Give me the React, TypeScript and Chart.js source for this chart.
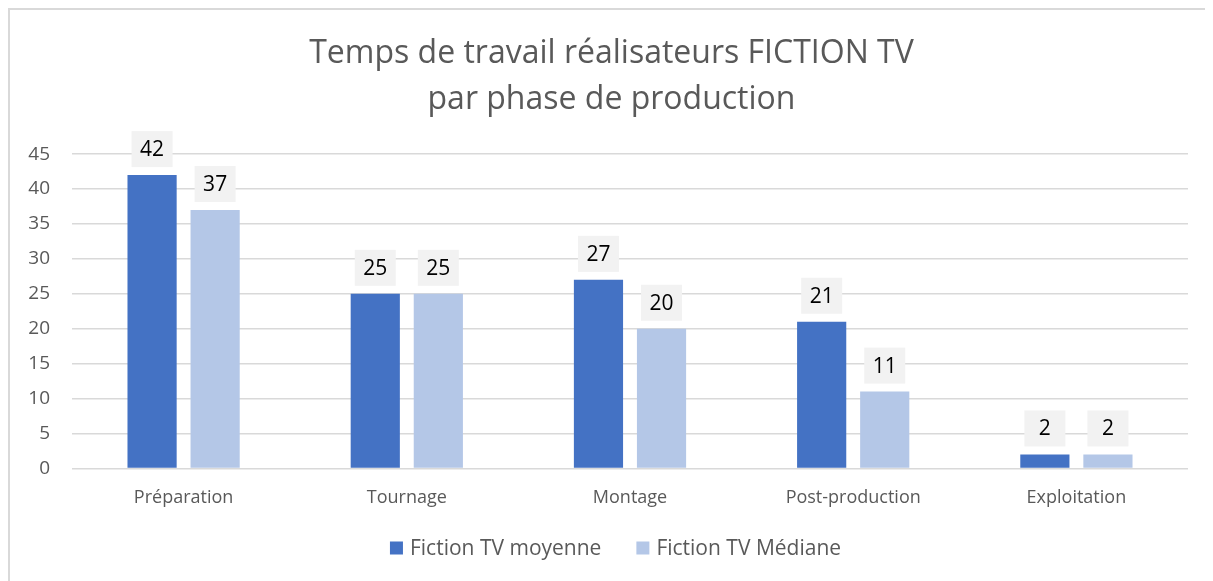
import React, { useEffect, useRef } from "react";
import { Chart, registerables } from "chart.js";

Chart.register(...registerables);

const categories = ["Préparation", "Tournage", "Montage", "Post-production", "Exploitation"];
const moyenneValues = [42, 25, 27, 21, 2];
const medianeValues = [37, 25, 20, 11, 2];
const seriesNames = ["Fiction TV moyenne", "Fiction TV Médiane"];
const titleLines = ["Temps de travail réalisateurs FICTION TV", "par phase de production"];

const FONT = "'Open Sans', 'Noto Sans', sans-serif";

const labelPlugin = {
  id: "boxLabels",
  afterDatasetsDraw(chart: any) {
    const ctx = chart.ctx;
    ctx.save();
    chart.data.datasets.forEach((ds: any, di: number) => {
      const meta = chart.getDatasetMeta(di);
      meta.data.forEach((bar: any, i: number) => {
        const v = ds.data[i];
        const w = 41;
        const h = 36;
        const bottom = bar.y - 8;
        ctx.fillStyle = "#f2f2f2";
        ctx.fillRect(bar.x - w / 2, bottom - h, w, h);
        ctx.fillStyle = "#000000";
        ctx.font = `21px ${FONT}`;
        ctx.textAlign = "center";
        ctx.textBaseline = "middle";
        ctx.fillText(String(v), bar.x, bottom - h / 2 + 1);
      });
    });
    ctx.restore();
  },
};

const legendPlugin = {
  id: "customLegend",
  afterDraw(chart: any) {
    const ctx = chart.ctx;
    ctx.save();
    ctx.font = `21px ${FONT}`;
    const box = 13;
    const textGap = 7;
    const itemGap = 35;
    const items = chart.data.datasets.map((ds: any) => ({
      text: ds.label,
      color: ds.backgroundColor,
      w: box + textGap + ctx.measureText(ds.label).width,
    }));
    const total = items.reduce((s: number, it: any) => s + it.w, 0) + itemGap * (items.length - 1);
    let x = (chart.width - total) / 2 + 4;
    const y = chart.height - 33;
    items.forEach((it: any) => {
      ctx.fillStyle = it.color;
      ctx.fillRect(x, y - box / 2, box, box);
      ctx.fillStyle = "#595959";
      ctx.textAlign = "left";
      ctx.textBaseline = "middle";
      ctx.fillText(it.text, x + box + textGap, y + 1);
      x += it.w + itemGap;
    });
    ctx.restore();
  },
};

export default function App() {
  const ref = useRef<HTMLCanvasElement | null>(null);
  useEffect(() => {
    if (!ref.current) return;
    const chart = new Chart(ref.current, {
      type: "bar",
      data: {
        labels: categories,
        datasets: [
          { label: seriesNames[0], data: moyenneValues, backgroundColor: "#4472c4" },
          { label: seriesNames[1], data: medianeValues, backgroundColor: "#b4c7e7" },
        ],
      },
      options: {
        responsive: false,
        animation: false,
        datasets: { bar: { categoryPercentage: 0.565, barPercentage: 0.78 } },
        layout: { padding: { left: 0, right: 0, top: 0, bottom: 61 } },
        plugins: {
          title: {
            display: true,
            text: titleLines,
            color: "#595959",
            font: { family: FONT, size: 32, weight: "normal", lineHeight: 1.44 },
            padding: { top: 21, bottom: 31 },
          },
          legend: { display: false },
          tooltip: { enabled: false },
        },
        scales: {
          x: {
            grid: { display: false },
            border: { display: false },
            ticks: { color: "#595959", font: { family: FONT, size: 18 }, padding: 11 },
          },
          y: {
            min: 0,
            max: 45,
            ticks: { stepSize: 5, color: "#595959", font: { family: FONT, size: 19 }, padding: 22 },
            grid: { color: "#d9d9d9", drawTicks: false, lineWidth: 1.5 },
            border: { display: false },
            afterFit(scale: any) {
              scale.width = 62;
            },
          },
          spacer: {
            type: "linear",
            position: "right",
            display: true,
            grid: { display: false, drawTicks: false },
            border: { display: false },
            ticks: { display: false },
            afterFit(scale: any) {
              scale.width = 25;
            },
          },
        },
      },
      plugins: [labelPlugin, legendPlugin],
    });
    return () => chart.destroy();
  }, []);
  return (
    <div
      style={{
        width: 1203,
        height: 571,
        borderLeft: "2px solid #d9d9d9",
        borderTop: "2px solid #d9d9d9",
        background: "#fff",
      }}
    >
      <canvas ref={ref} width={1203} height={571} style={{ display: "block" }} />
    </div>
  );
}
